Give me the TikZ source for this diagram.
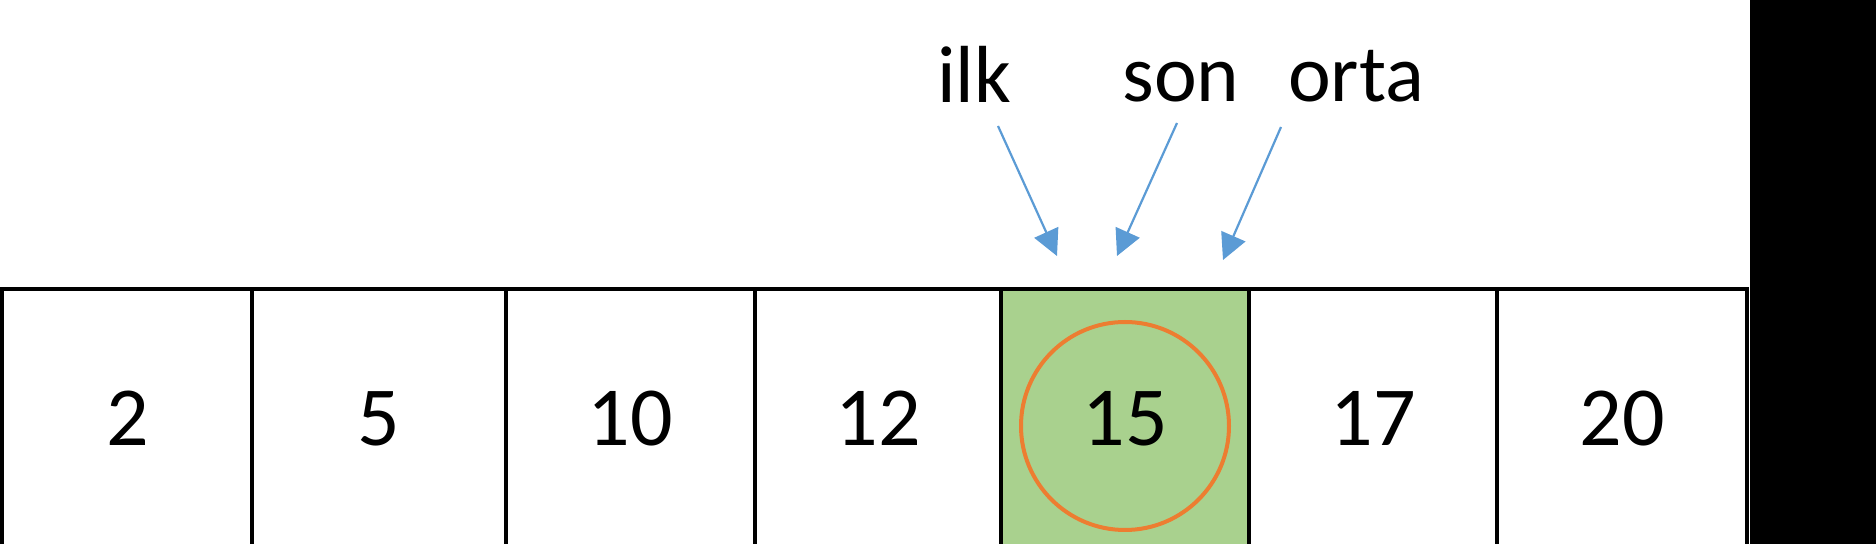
\documentclass[tikz,border=0pt]{standalone}
\usepackage{fontspec}
\setmainfont{Carlito}
\usetikzlibrary{arrows.meta}
\definecolor{cellgreen}{HTML}{A9D18E}
\definecolor{ringorange}{HTML}{ED7D31}
\definecolor{arrowblue}{HTML}{5B9BD5}
\begin{document}
\begin{tikzpicture}[x=0.5pt,y=-0.5pt,
  cellbox/.style={draw=black,line width=2pt},
  numtext/.style={font=\fontsize{42}{50}\selectfont,anchor=base,inner sep=0pt},
  ptrlabel/.style={font=\fontsize{40.5}{49}\selectfont,anchor=base,inner sep=0pt},
  ptrarrow/.style={draw=arrowblue,line width=1.1pt,-{Triangle[length=13pt,width=13pt]}},
  ring/.style={draw=ringorange,line width=2pt,circle,minimum size=104pt,inner sep=0pt}]
\useasboundingbox (0,0) rectangle (1876,544);
\fill[white] (0,0) rectangle (1876,544);
\begin{scope}
  \clip (0,0) rectangle (1876,544);
  \fill[cellgreen] (1001,289) rectangle (1249,600);
  \draw[cellbox] (2,289) rectangle (252,600);
  \draw[cellbox] (252,289) rectangle (506,600);
  \draw[cellbox] (506,289) rectangle (755,600);
  \draw[cellbox] (755,289) rectangle (1001,600);
  \draw[cellbox] (1001,289) rectangle (1249,600);
  \draw[cellbox] (1249,289) rectangle (1497,600);
  \draw[cellbox] (1497,289) rectangle (1747,600);
  \node[ring] (ring) at (1125,426) {};
\end{scope}
\node[numtext] (n2) at (127.5,446) {2};
\node[numtext] (n5) at (379,446) {5};
\node[numtext] (n10) at (630.5,446) {10};
\node[numtext] (n12) at (878,446) {12};
\node[numtext] (n15) at (1125,446) {15};
\node[numtext] (n17) at (1373,446) {17};
\node[numtext] (n20) at (1622,446) {20};
\node[ptrlabel] (ilk) at (974,103) {ilk};
\node[ptrlabel] (son) at (1181,102) {son};
\node[ptrlabel] (orta) at (1356,102) {orta};
\coordinate (ilkS) at (998,126);
\coordinate (ilkE) at (1057,256);
\coordinate (sonS) at (1177,123);
\coordinate (sonE) at (1117,256);
\coordinate (ortaS) at (1281,127);
\coordinate (ortaE) at (1223,260);
\draw[ptrarrow] (ilkS) -- (ilkE);
\draw[ptrarrow] (sonS) -- (sonE);
\draw[ptrarrow] (ortaS) -- (ortaE);
\fill[black] (1750,0) rectangle (1876,544);
\end{tikzpicture}
\end{document}
